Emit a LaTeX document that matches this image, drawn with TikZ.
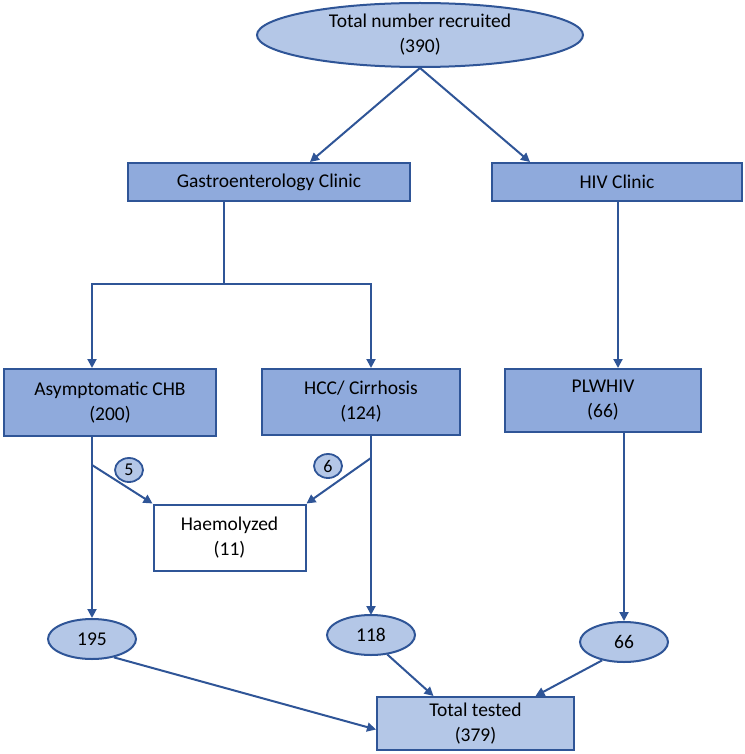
\documentclass[tikz,border=0pt]{standalone}
\usepackage{fontspec}
\setmainfont{Carlito}
\usetikzlibrary{shapes.geometric,arrows.meta}
\definecolor{edgeblue}{HTML}{2F5597}
\definecolor{boxblue}{HTML}{8FAADC}
\definecolor{paleblue}{HTML}{B4C7E7}
\begin{document}
\begin{tikzpicture}[x=1pt,y=-1pt,
	box/.style={draw=edgeblue,line width=2pt,fill=boxblue,align=center,inner sep=0pt,font=\fontsize{19.5}{25}\selectfont},
	oval/.style={ellipse,draw=edgeblue,line width=2pt,fill=paleblue,align=center,inner sep=0pt,minimum width=88pt,minimum height=40pt,font=\fontsize{19.5}{25}\selectfont},
	tag/.style={ellipse,draw=edgeblue,line width=1.8pt,fill=paleblue,inner sep=0pt,minimum width=28pt,minimum height=24pt,font=\fontsize{18}{18}\selectfont},
	link/.style={draw=edgeblue,line width=2pt,-{Triangle[width=9pt,length=9pt]}},
	plain/.style={draw=edgeblue,line width=2pt}]
				\useasboundingbox (0,0) rectangle (744,754);
				\node [oval,minimum width=326pt,minimum height=64pt] (rec) at (420,35) {Total number recruited\\(390)};
				\node [box,minimum width=282pt,minimum height=38pt] (gastro) at (269,182) {Gastroenterology Clinic};
				\node [box,minimum width=250pt,minimum height=38pt] (hiv) at (617,182) {HIV Clinic};
				\node [box,minimum width=212pt,minimum height=67pt] (asym) at (110,402.5) {Asymptomatic CHB\\(200)};
				\node [box,minimum width=198pt,minimum height=66pt] (hcc) at (361,402) {HCC/ Cirrhosis\\(124)};
				\node [box,minimum width=196pt,minimum height=63pt] (plw) at (603,400.5) {PLWHIV\\(66)};
				\node [box,fill=white,minimum width=152pt,minimum height=66pt] (hae) at (229.5,537.5) {Haemolyzed\\(11)};
				\node [tag] (c5) at (129,470) {5};
				\node [tag] (c6) at (328,466) {6};
				\node [oval] (e195) at (92,639) {195};
				\node [oval] (e118) at (371,635) {118};
				\node [oval] (e66) at (624,642) {66};
				\node [box,fill=paleblue,minimum width=197pt,minimum height=53pt] (tot) at (475.5,723.5) {Total tested\\(379)};
				\coordinate (br) at (224,284);
				\draw [link] (rec.south) -- ([xshift=41pt]gastro.north);
				\draw [link] (rec.south) -- ([xshift=-87pt]hiv.north);
				\draw [plain] ([xshift=-45pt]gastro.south) -- (br);
				\draw [link] (br) -| ([xshift=-18pt]asym.north);
				\draw [link] (br) -| ([xshift=10pt]hcc.north);
				\draw [link] ([xshift=1pt]hiv.south) -- ([xshift=15pt]plw.north);
				\draw [link] ([xshift=-18pt]asym.south) -- (e195.north);
				\draw [link] ([xshift=-18pt,yshift=-28pt]asym.south) -- (hae.north west);
				\draw [link] ([xshift=10pt]hcc.south) -- ([yshift=-1pt]e118.north);
				\draw [link] ([xshift=10pt,yshift=-22pt]hcc.south) -- (hae.north east);
				\draw [link] ([xshift=21pt]plw.south) -- (e66.north);
				\draw [link] (e195.-40) -- ([yshift=-6pt]tot.west);
				\draw [link] (e118.-50) -- ([xshift=-42pt]tot.north);
				\draw [link] (e66.-140) -- ([xshift=60pt]tot.north);
\end{tikzpicture}
\end{document}
